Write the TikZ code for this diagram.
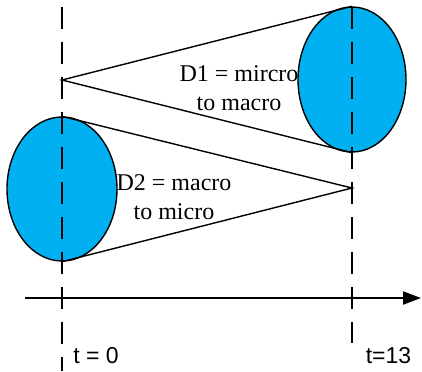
\documentclass[tikz,border=0pt]{standalone}
\usepackage{fontspec}
\setmainfont{Liberation Serif}
\setsansfont{Liberation Sans}
\usetikzlibrary{arrows.meta,positioning,shapes.geometric}
\definecolor{skyfill}{RGB}{0,176,240}

\begin{document}
\begin{tikzpicture}[x=0.5pt,y=-0.5pt,
blob/.style={ellipse,draw,fill=skyfill,line width=0.7pt,inner sep=0pt},
guide/.style={dash pattern=on 11pt off 6.5pt,line width=0.7pt},
txt/.style={align=center,inner sep=0pt,font=\fontsize{12}{14.5}\selectfont},
tlab/.style={inner sep=0pt,font=\sffamily\fontsize{11.5}{13}\selectfont}]
\useasboundingbox (0,0) rectangle (422,371);
\node[blob,minimum width=55pt,minimum height=72pt] (E2) at (62,189) {};
\node[blob,minimum width=54pt,minimum height=72.5pt] (E1) at (352,79.5) {};
\coordinate (P1) at (62,80);
\coordinate (P2) at (352,188);
\coordinate (L1) at (62,7);
\coordinate (L2) at (62,371);
\coordinate (R1) at (352,7);
\coordinate (R2) at (352,343);
\coordinate (X0) at (25,298);
\coordinate (X1) at (421,298);
\draw[line width=0.7pt] (E1.north)--(P1)--(E1.south);
\draw[line width=0.7pt] (E2.north)--(P2)--(E2.south);
\draw[guide] (L1)--(L2);
\draw[guide] (R1)--(R2);
\draw[line width=1pt,-{Triangle[length=9pt,width=6.5pt]}] (X0)--(X1);
\node[txt] (D1) at (239,88.5) {D1 = mircro\\to macro};
\node[txt] (D2) at (174,197) {D2 = macro\\to micro};
\node[tlab] (T0) at (96,356) {t = 0};
\node[tlab] (T13) at (388.5,356) {t=13};
\end{tikzpicture}
\end{document}
